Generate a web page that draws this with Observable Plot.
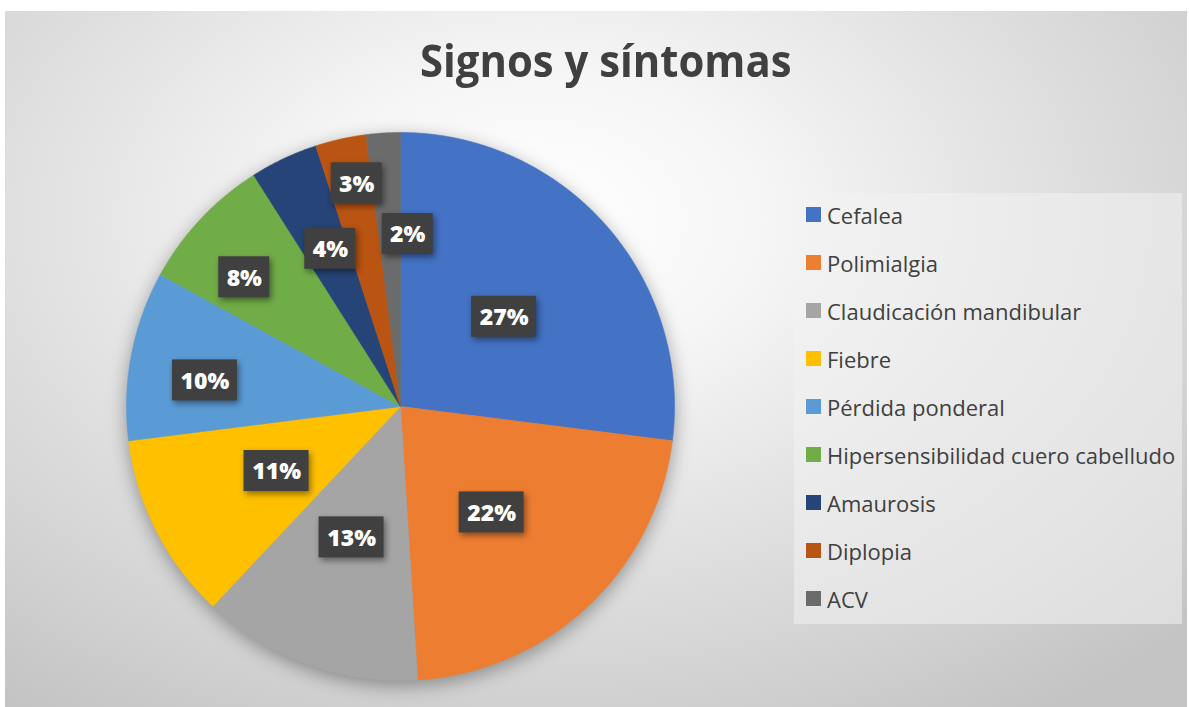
<!DOCTYPE html>
<html>
<head>
<meta charset="utf-8">
<script src="https://cdn.jsdelivr.net/npm/d3@7"></script>
<script src="https://cdn.jsdelivr.net/npm/@observablehq/plot@0.6"></script>
<style>
  html, body { margin: 0; padding: 0; background: #ffffff; }
  #page { position: relative; width: 1189px; height: 707px; overflow: hidden; background: #fff; }
  #frame { position: absolute; left: 5px; top: 11px; right: 2px; bottom: 0;
    background: radial-gradient(ellipse 75% 85% at 45% 30%, #ffffff 0%, #f6f6f6 25%, #e2e2e2 55%, #d2d2d2 80%, #c4c4c4 100%); }
  #title { position: absolute; left: 0; width: 1211px; top: 35px; text-align: center;
    font-family: "Open Sans", sans-serif; font-weight: 700; font-size: 45px; line-height: 50px; color: #404040; }
  #title span { display: inline-block; transform: scaleX(0.93); transform-origin: center; }
  #legend { position: absolute; left: 794px; top: 193px; width: 388px; height: 431px;
    background: rgba(242,242,242,0.55); }
  .item { position: absolute; left: 12px; height: 30px; }
  .sw { position: absolute; left: 0; top: 7px; width: 15px; height: 15px; }
  .lt { position: absolute; left: 21px; top: 0; white-space: nowrap; font-family: "Open Sans", sans-serif;
    font-size: 22px; line-height: 30px; color: #404040; }
  #chart { position: absolute; left: 0; top: 0; }
  #chart g[aria-label="line"] { filter: drop-shadow(0px 5px 9px rgba(0,0,0,0.35)); }
  #chart g[aria-label="rect"] { filter: drop-shadow(2px 3px 3px rgba(0,0,0,0.45)); }
</style>
</head>
<body>
<div id="page">
  <div id="frame"></div>
  <div id="chart"></div>
  <div id="title"><span>Signos y síntomas</span></div>
  <div id="legend"></div>
</div>
<script>
// ---- data ----
const names = ["Cefalea", "Polimialgia", "Claudicación mandibular", "Fiebre", "Pérdida ponderal",
  "Hipersensibilidad cuero cabelludo", "Amaurosis", "Diplopia", "ACV"];
const values = [27, 22, 13, 11, 10, 8, 4, 3, 2];
const labels = ["27%", "22%", "13%", "11%", "10%", "8%", "4%", "3%", "2%"];
const colors = ["#4472C4", "#ED7D31", "#A5A5A5", "#FFC000", "#5B9BD5", "#70AD47", "#264478", "#BA5412", "#6B6B6B"];
// label placement (fraction of radius, angular shift in degrees)
const labelRadius = [0.50, 0.51, 0.51, 0.51, 0.72, 0.74, 0.63, 0.83, 0.63];
const labelShift = [0.5, 2.5, 0.7, -0.5, -3.2, -3.6, 1.2, 1.5, 6.0];

// ---- geometry from data ----
const arcs = d3.pie().sort(null).value(d => d)(values);
const slicePts = [];
arcs.forEach((a, i) => {
  slicePts.push({name: names[i], x: 0, y: 0});
  const n = Math.max(4, Math.ceil((a.endAngle - a.startAngle) / (Math.PI / 360)));
  for (let k = 0; k <= n; k++) {
    const t = a.startAngle + (a.endAngle - a.startAngle) * k / n;
    slicePts.push({name: names[i], x: Math.sin(t), y: Math.cos(t)});
  }
});
const R = 274; // pixels per unit
const labelData = arcs.map((a, i) => {
  const t = (a.startAngle + a.endAngle) / 2 + labelShift[i] * Math.PI / 180;
  const x = labelRadius[i] * Math.sin(t), y = labelRadius[i] * Math.cos(t);
  const w = (labels[i].length > 2 ? 65 : 51) / 2 / R, h = 41 / 2 / R;
  return {label: labels[i], x, y, x1: x - w, x2: x + w, y1: y - h, y2: y + h};
});

const cx = 400, cy = 406;
const chart = Plot.plot({
  width: 1189, height: 707, margin: 0,
  x: {domain: [-1, 1], range: [cx - R, cx + R], axis: null},
  y: {domain: [-1, 1], range: [cy + R, cy - R], axis: null},
  color: {domain: names, range: colors},
  style: {background: "transparent", overflow: "visible"},
  marks: [
    Plot.line(slicePts, {x: "x", y: "y", z: "name", fill: "name", stroke: "name", strokeWidth: 0.6, curve: "linear-closed"}),
    Plot.rect(labelData, {x1: "x1", x2: "x2", y1: "y1", y2: "y2", fill: "#404040"}),
    Plot.text(labelData, {x: "x", y: "y", text: "label", fill: "white", fontSize: 23, fontWeight: 800,
      fontFamily: "Open Sans, sans-serif", dy: 1})
  ]
});
document.getElementById("chart").appendChild(chart);

// ---- legend ----
const legend = document.getElementById("legend");
names.forEach((n, i) => {
  const item = document.createElement("div");
  item.className = "item";
  item.style.top = (215 + 48.06 * i - 193 - 15) + "px";
  const sw = document.createElement("div");
  sw.className = "sw"; sw.style.background = colors[i];
  const lt = document.createElement("div");
  lt.className = "lt"; lt.textContent = n;
  item.appendChild(sw); item.appendChild(lt);
  legend.appendChild(item);
});
</script>
</body>
</html>
